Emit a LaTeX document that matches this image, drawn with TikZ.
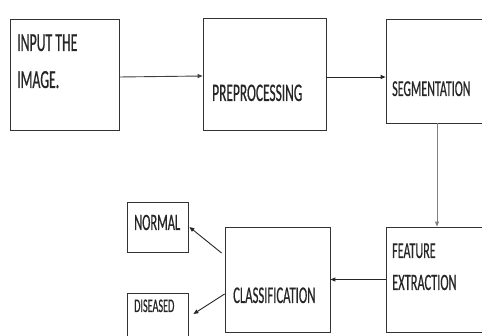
\documentclass[tikz,border=0pt]{standalone}
\usepackage{fontspec}
\newfontfamily\cf[FakeStretch=0.53,FakeBold=0.5]{Carlito}
\newcommand\fsz[1]{\fontsize{#1}{#1}\selectfont}
\usetikzlibrary{arrows.meta,calc}
\begin{document}
\begin{tikzpicture}[x=1pt,y=-1pt,
  box/.style={draw=black!80,line width=0.8pt,rectangle,inner sep=0pt,minimum width=#1},
  txt/.style={anchor=base west,inner sep=0pt,text=black!85},
  arr/.style={draw=black!85,line width=0.9pt,-{Triangle[length=5pt,width=4pt]}}]
\useasboundingbox (0,0) rectangle (482,336);
\fill[white] (0,0) rectangle (482,336);
% boxes
\node[box=109pt,minimum height=111pt] (in) at (64.5,74.5) {};
\node[box=123pt,minimum height=112pt] (pre) at (264.5,74) {};
\node[box=98pt,minimum height=104pt] (seg) at (435,71) {};
\node[box=98pt,minimum height=105pt] (feat) at (435,279.5) {};
\node[box=105pt,minimum height=105pt] (cls) at (277.5,279.5) {};
\node[box=61pt,minimum height=50pt] (nor) at (157.5,227) {};
\node[box=61pt,minimum height=50pt] (dis) at (157.5,318) {};
% texts
\node[txt,font={\cf\fsz{26}}] (t1) at (17,51) {INPUT THE};
\node[txt,font={\cf\fsz{26}}] (t2) at (17,88) {IMAGE.};
\node[txt,font={\cf\fsz{25.3}}] (t3) at (212,101) {PREPROCESSING};
\node[txt,font={\cf\fsz{22.7}}] (t4) at (392,96) {SEGMENTATION};
\node[txt,font={\cf\fsz{22.8}}] (t5) at (392,258) {FEATURE};
\node[txt,font={\cf\fsz{23.4}}] (t6) at (392,290) {EXTRACTION};
\node[txt,font={\cf\fsz{23.9}}] (t7) at (233,303) {CLASSIFICATION};
\node[txt,font={\cf\fsz{23.4}}] (t8) at (134,230) {NORMAL};
\node[txt,font={\cf\fsz{19.2}}] (t9) at (134,312) {DISEASED};
% connectors
\draw[arr,draw=black!75] ($(in.east)+(0,2.5)$) -- ($(pre.west)+(0,2)$);
\draw[arr] ($(pre.east)+(0,3)$) -- ($(seg.west)+(0,6)$);
\draw[arr,draw=black!50] ($(seg.south)+(2,0)$) -- ($(feat.north)+(2,0)$);
\draw[arr] (feat.west) -- (cls.east);
\draw[arr] ($(cls.west)+(-3,-26.5)$) -- ($(nor.east)+(1,0)$);
\draw[arr] ($(cls.west)+(0,14.5)$) -- ($(dis.east)+(5,-4)$);
\end{tikzpicture}
\end{document}
